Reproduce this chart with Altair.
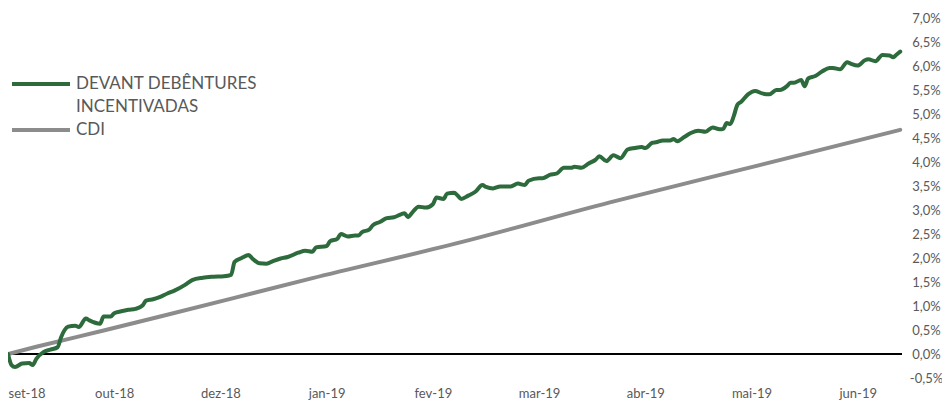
import json
import altair as alt
import pandas as pd

# ---- data ----
x_labels = ["set-18", "out-18", "dez-18", "jan-19", "fev-19",
            "mar-19", "abr-19", "mai-19", "jun-19"]
label_step = 30  # business days between x labels

fund_name = "DEVANT DEBÊNTURES INCENTIVADAS"
fund_legend_lines = ["DEVANT DEBÊNTURES", "INCENTIVADAS"]  # legend wraps the name on two rows
cdi_name = "CDI"
fund_color = "#2E6B3C"
cdi_color = "#8C8C8C"

devant_day = [0, 1, 2, 4, 6, 7, 8, 10, 12, 14, 15, 16, 17, 19, 20, 22, 23, 26, 27, 29,
              30, 32, 34, 36, 38, 39, 41, 43, 45, 47, 50, 52, 55, 58, 61, 63, 64, 66, 68, 69,
              71, 73, 75, 77, 79, 82, 84, 86, 87, 90, 91, 93, 94, 96, 98, 99, 100, 102, 103, 105,
              107, 109, 111, 112, 113, 114, 116, 118, 120, 121, 123, 124, 126, 127, 128, 130, 132, 134, 135, 137,
              139, 142, 144, 146, 147, 150, 151, 153, 155, 157, 159, 160, 162, 164, 166, 167, 169, 171, 173, 175,
              177, 179, 180, 182, 183, 185, 187, 188, 189, 191, 193, 195, 197, 199, 201, 202, 203, 204, 205, 206,
              207, 209, 211, 213, 215, 217, 218, 220, 221, 222, 224, 225, 226, 228, 230, 232, 233, 235, 237, 238,
              240, 242, 243, 245, 247, 249, 250, 251, 252]
devant_val = [0.00, -0.23, -0.27, -0.20, -0.19, -0.23, -0.10, 0.04, 0.09, 0.14, 0.35, 0.50, 0.57, 0.59, 0.56, 0.74, 0.70, 0.63, 0.78, 0.78,
              0.85, 0.89, 0.92, 0.94, 1.01, 1.11, 1.14, 1.19, 1.26, 1.32, 1.44, 1.54, 1.59, 1.61, 1.62, 1.65, 1.92, 2.00, 2.06, 1.99,
              1.89, 1.88, 1.94, 1.99, 2.02, 2.11, 2.15, 2.13, 2.22, 2.25, 2.35, 2.40, 2.50, 2.45, 2.47, 2.47, 2.54, 2.59, 2.68, 2.75,
              2.83, 2.85, 2.91, 2.93, 2.85, 2.93, 3.07, 3.05, 3.12, 3.26, 3.23, 3.34, 3.36, 3.30, 3.23, 3.30, 3.38, 3.52, 3.48, 3.45,
              3.49, 3.49, 3.55, 3.52, 3.61, 3.66, 3.66, 3.73, 3.76, 3.88, 3.88, 3.90, 3.88, 3.97, 4.05, 4.12, 4.02, 4.14, 4.08, 4.26,
              4.29, 4.31, 4.29, 4.40, 4.41, 4.45, 4.45, 4.48, 4.43, 4.52, 4.61, 4.65, 4.63, 4.72, 4.68, 4.69, 4.81, 4.79, 4.96, 5.19,
              5.25, 5.41, 5.48, 5.43, 5.41, 5.50, 5.50, 5.58, 5.65, 5.65, 5.71, 5.58, 5.74, 5.79, 5.89, 5.96, 5.96, 5.93, 6.08, 6.05,
              6.01, 6.12, 6.14, 6.10, 6.23, 6.22, 6.18, 6.24, 6.30]

cdi_day = [0, 8, 27, 43, 86, 128, 170, 212, 252]
cdi_val = [0.00, 0.15, 0.49, 0.78, 1.58, 2.33, 3.16, 3.93, 4.67]

y_ticks = [-0.5, 0.0, 0.5, 1.0, 1.5, 2.0, 2.5, 3.0, 3.5, 4.0, 4.5, 5.0, 5.5, 6.0, 6.5, 7.0]

# ---- build table ----
rows = [{"series": cdi_name, "day": d, "value": v} for d, v in zip(cdi_day, cdi_val)]
rows += [{"series": fund_name, "day": d, "value": v} for d, v in zip(devant_day, devant_val)]
df = pd.DataFrame(rows)
zero_df = pd.DataFrame({"value": [0.0]})

# legend rows: the fund name is shown on two rows, the second row has no line sample
wrap_key = fund_legend_lines[1]
legend_domain = [fund_name, wrap_key, cdi_name]
legend_range = [fund_color, "rgba(0,0,0,0)", cdi_color]
legend_label_expr = (
    f"datum.label == {json.dumps(fund_name)} ? {json.dumps(fund_legend_lines[0])} : datum.label"
)

FONT = "Lato"
TEXT = "#595959"

x_enc = alt.X(
    "day:Q",
    scale=alt.Scale(domain=[0, 252.5], nice=False, zero=False),
    axis=alt.Axis(
        values=[i * label_step for i in range(len(x_labels))],
        labelExpr=f"{json.dumps(x_labels)}[round(datum.value / {label_step})]",
        domain=False, ticks=False, grid=False, title=None,
        labelFont=FONT, labelFontSize=13, labelColor=TEXT,
        labelPadding=9, labelFlush=True, labelOverlap=False,
    ),
)
y_enc = alt.Y(
    "value:Q",
    scale=alt.Scale(domain=[-0.5, 7.0], nice=False, zero=False),
    axis=alt.Axis(
        orient="right", values=y_ticks,
        labelExpr="replace(replace(format(datum.value, '.1f'), '.', ','), '\u2212', '-') + '%'",
        domain=False, ticks=False, grid=False, title=None,
        labelFont=FONT, labelFontSize=13, labelColor=TEXT,
        labelAlign="center", labelPadding=24, labelFlush=False, labelOverlap=False,
    ),
)

zero_rule = alt.Chart(zero_df).mark_rule(color="black", strokeWidth=2).encode(
    y=y_enc
)

lines = alt.Chart(df).mark_line(strokeWidth=4, interpolate="monotone", strokeCap="round").encode(
    x=x_enc,
    y=y_enc,
    color=alt.Color(
        "series:N",
        scale=alt.Scale(domain=legend_domain, range=legend_range),
        legend=alt.Legend(
            title=None, orient="none", legendX=2, legendY=55,
            symbolType="stroke", symbolStrokeWidth=4, symbolSize=3364,
            labelFont=FONT, labelFontSize=17, labelColor=TEXT,
            labelExpr=legend_label_expr, labelOffset=4, labelLimit=400,
            clipHeight=22, rowPadding=1, padding=0,
        ),
    ),
)

chart = alt.layer(zero_rule, lines).properties(
    width=894, height=360,
    autosize=alt.AutoSizeParams(type="none"),
    padding={"left": 0, "top": 10, "right": 40, "bottom": 22},
    background="white",
).configure_view(stroke=None)

chart.save("out.html", embed_options={"renderer": "svg", "actions": False})
